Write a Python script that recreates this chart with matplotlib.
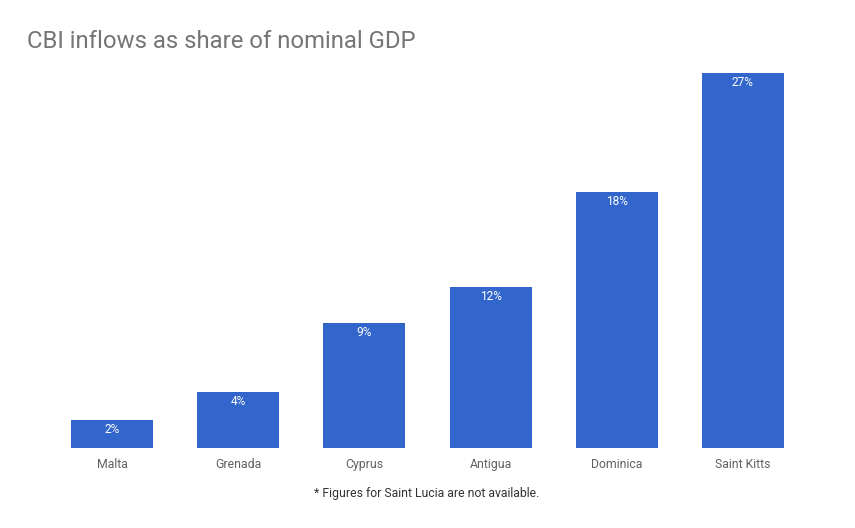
import matplotlib.pyplot as plt

countries = ["Malta", "Grenada", "Cyprus", "Antigua", "Dominica", "Saint Kitts"]
shares = [2.0, 4.0, 9.0, 11.6, 18.4, 27.0]
labels = ["2%", "4%", "9%", "12%", "18%", "27%"]

plt.rcParams["font.family"] = ["Roboto", "DejaVu Sans"]

fig = plt.figure(figsize=(8.55, 5.28), dpi=100)
ax = fig.add_axes([49 / 855, 1 - 448 / 528, (806 - 49) / 855, (448 - 73) / 528])

x = range(len(countries))
bars = ax.bar(x, shares, width=0.65, color="#3366cc")
for b, lab in zip(bars, labels):
    ax.annotate(lab, (b.get_x() + b.get_width() / 2, b.get_height()),
                xytext=(0, -6.8), textcoords="offset points",
                ha="center", va="center", color="white", fontsize=8.6)

ax.set_xlim(-0.5, len(countries) - 0.5)
ax.set_ylim(0, 27)
ax.set_xticks(list(x))
ax.set_xticklabels(countries, color="#616161", fontsize=8.8)
ax.tick_params(axis="x", length=0, pad=7)
ax.set_yticks([])
for s in ax.spines.values():
    s.set_visible(False)

fig.text(27 / 855, 1 - 42 / 528, "CBI inflows as share of nominal GDP",
         fontsize=17.2, color="#757575", va="center", ha="left")
fig.text(427 / 855, 1 - 494 / 528, "* Figures for Saint Lucia are not available.",
         fontsize=8.85, color="#333333", va="center", ha="center")

fig.savefig("out.png", dpi=100)
